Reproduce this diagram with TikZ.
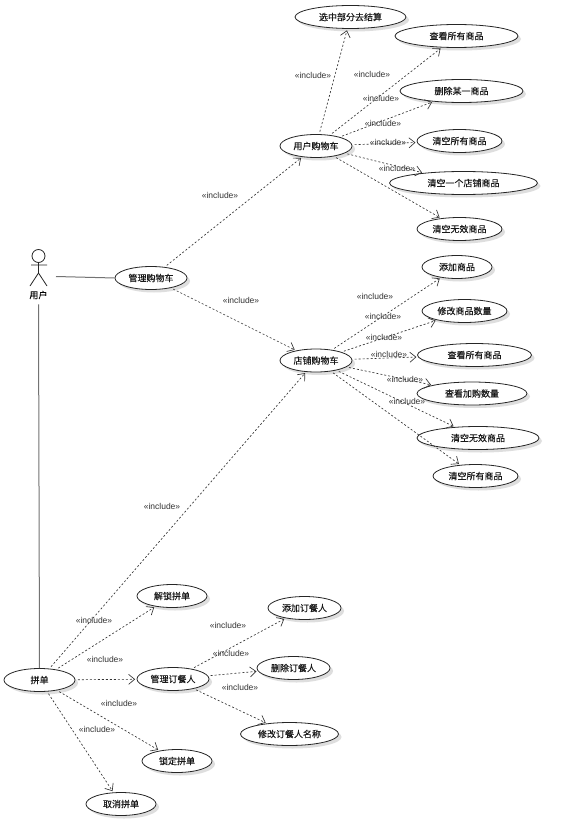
\documentclass[tikz,border=0pt]{standalone}
\usepackage{fontspec}
\setmainfont{Liberation Sans}
\newfontfamily\cjk[FakeBold=0.25]{Noto Sans CJK SC}
\usetikzlibrary{shapes.geometric,shadows,arrows.meta}
\tikzset{
  usecase/.style={ellipse,draw=black!85,fill=white,line width=0.8pt,inner sep=0pt,minimum height=23pt,
    font=\cjk\fontsize{9}{11}\selectfont,text=black!90,
    drop shadow={shadow xshift=3pt,shadow yshift=-3pt,fill=black!25,opacity=.5}},
  incl/.style={dashed,dash pattern=on 2pt off 2pt,line width=0.65pt,draw=black!80,
    -{Straight Barb[length=6pt,width=10pt,line width=0.65pt]},shorten <=2.5pt,shorten >=1.5pt},
  assoc/.style={draw=black!55,line width=1pt},
  stereo/.style={inner sep=0pt,font=\fontsize{8.5}{10}\selectfont,text=black!80},
  figure/.style={draw=black!85,line width=0.8pt}
}
\newcommand{\uc}[5]{\node[usecase,minimum width=#4*2pt] (#1) at (#2,#3) {#5};}
\newcommand{\lab}[3]{\node[stereo] (#1) at (#2,#3) {«include»};}
\begin{document}
\begin{tikzpicture}[x=1pt,y=-1pt]
\useasboundingbox (0,0) rectangle (561,837);
\fill[white] (0,0) rectangle (561,837);
% actor
\node[circle,draw=black!85,line width=0.8pt,inner sep=0pt,minimum size=13pt] (head) at (38.5,256) {};
\coordinate (hip) at (38.5,273);
\coordinate (larm) at (31,265);
\coordinate (rarm) at (47,265);
\coordinate (lfoot) at (30,286);
\coordinate (rfoot) at (47,286);
\draw[figure] (head.south) -- (hip) (larm) -- (rarm) (lfoot) -- (hip) -- (rfoot);
\node[inner sep=0pt,font=\cjk\fontsize{9}{11}\selectfont] (user) at (38.5,295) {用户};
\coordinate (userright) at (56,276.5);
% use cases
\uc{manage}{151}{278}{36}{管理购物车}
\uc{ucart}{316}{146}{36}{用户购物车}
\uc{scart}{316}{360.5}{36}{店铺购物车}
\uc{a1}{350.5}{17}{55.5}{选中部分去结算}
\uc{a2}{456.5}{36}{61.5}{查看所有商品}
\uc{a3}{461.5}{91}{61.5}{删除某一商品}
\uc{a4}{459.5}{141}{42.5}{清空所有商品}
\uc{a5}{463.5}{183}{74}{清空一个店铺商品}
\uc{a6}{459.5}{229}{42.5}{清空无效商品}
\uc{b1}{457}{267}{35}{添加商品}
\uc{b2}{464.5}{311}{42.5}{修改商品数量}
\uc{b3}{474.5}{355}{57}{查看所有商品}
\uc{b4}{472}{393.5}{55}{查看加购数量}
\uc{b5}{478}{438}{61}{清空无效商品}
\uc{b6}{475.5}{476}{42.5}{清空所有商品}
\uc{pin}{39.5}{680}{35.5}{拼单}
\uc{unlock}{172}{596}{35}{解锁拼单}
\uc{diner}{173}{679}{36}{管理订餐人}
\uc{lock}{177}{761}{35}{锁定拼单}
\uc{cancel}{121}{804}{35}{取消拼单}
\uc{d1}{304.5}{608}{36.5}{添加订餐人}
\uc{d2}{293.5}{668}{36.5}{删除订餐人}
\uc{d3}{289.5}{734}{49}{修改订餐人名称}
% associations
\draw[assoc] (userright) -- (manage.west);
\draw[assoc] (user.south)++(0,5) -- (pin.north);
% includes
\foreach \s/\t in {manage/ucart,manage/scart,ucart/a1,ucart/a2,ucart/a3,ucart/a4,ucart/a5,ucart/a6,
  scart/b1,scart/b2,scart/b3,scart/b4,scart/b5,scart/b6,pin/scart,pin/unlock,pin/diner,pin/lock,pin/cancel,
  diner/d1,diner/d2,diner/d3}
  \draw[incl] (\s) -- (\t);
% labels
\lab{l1}{220}{195}\lab{l2}{241}{300}\lab{l3}{313}{75}\lab{l4}{372}{74}\lab{l5}{381}{98}\lab{l6}{383}{123}
\lab{l7}{388}{142}\lab{l8}{397}{168}\lab{l9}{375}{296}\lab{l10}{383}{316}\lab{l11}{384}{337}\lab{l12}{389}{354}
\lab{l13}{405}{379}\lab{l14}{407}{401}\lab{l15}{162}{506}\lab{l16}{94}{620}\lab{l17}{105}{659}\lab{l18}{119}{703}
\lab{l19}{97}{729}\lab{l20}{228}{625}\lab{l21}{231}{653}\lab{l22}{240}{687}
\end{tikzpicture}
\end{document}
